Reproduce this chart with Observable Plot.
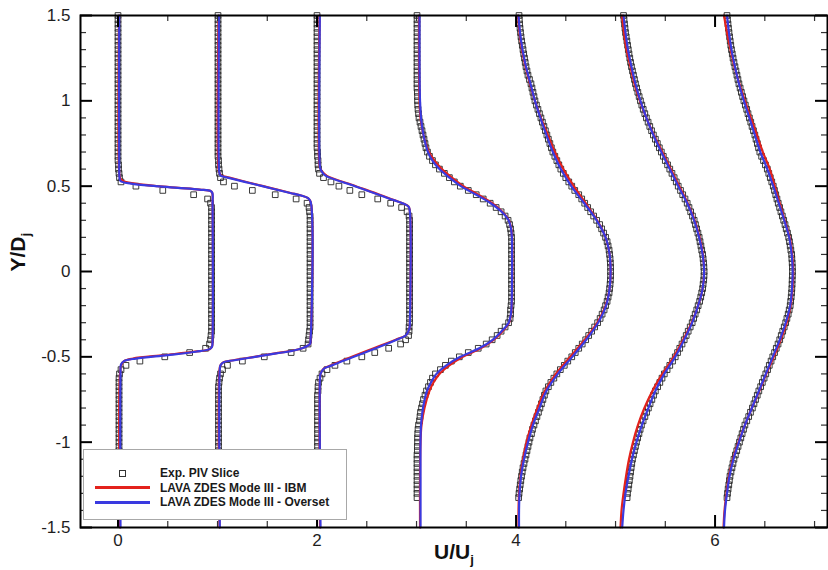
<!DOCTYPE html>
<html>
<head>
<meta charset="utf-8">
<script src="https://cdn.jsdelivr.net/npm/d3@7"></script>
<script src="https://cdn.jsdelivr.net/npm/@observablehq/plot@0.6"></script>
<style>
  body { margin: 0; background: #fff; }
  #wrap { position: relative; width: 828px; height: 570px; overflow: hidden; }
  #legend { position: absolute; left: 83px; top: 449px; width: 262px; height: 69px;
            border: 1px solid #a8a8a8; background: #fff;
            font: bold 12px "Liberation Sans", Arial, sans-serif; color: #1a1a1a; }
  #legend .sym { position: absolute; }
  #legend .txt { position: absolute; left: 76px; line-height: 14px; white-space: nowrap; }
</style>
</head>
<body>
<div id="wrap">
  <div id="chart"></div>
  <div id="legend"></div>
</div>
<script>
// ---------------- data ----------------
// streamwise stations, each profile is offset by its station index on the U/Uj axis
const stations = [0, 1, 2, 3, 4, 5, 6];

// PIV sample positions (Y/Dj)
const pivY = [
  1.5,1.475,1.45,1.425,1.4,1.375,1.35,1.325,1.3,1.275,
  1.25,1.225,1.2,1.175,1.15,1.125,1.1,1.075,1.05,1.025,
  1,0.975,0.95,0.925,0.9,0.875,0.85,0.825,0.8,0.775,
  0.75,0.725,0.7,0.675,0.65,0.625,0.6,0.575,0.55,0.525,
  0.5,0.475,0.45,0.425,0.4,0.375,0.35,0.325,0.3,0.275,
  0.25,0.225,0.2,0.175,0.15,0.125,0.1,0.075,0.05,0.025,
  0,-0.025,-0.05,-0.075,-0.1,-0.125,-0.15,-0.175,-0.2,-0.225,
  -0.25,-0.275,-0.3,-0.325,-0.35,-0.375,-0.4,-0.425,-0.45,-0.475,
  -0.5,-0.525,-0.55,-0.575,-0.6,-0.625,-0.65,-0.675,-0.7,-0.725,
  -0.75,-0.775,-0.8,-0.825,-0.85,-0.875,-0.9,-0.925,-0.95,-0.975,
  -1,-1.025,-1.05,-1.075,-1.1,-1.125,-1.15,-1.175,-1.2,-1.225,
  -1.25,-1.275,-1.3,-1.325
];

// Exp. PIV Slice: U/Uj at each pivY, one list per station
const pivU0 = [
  0,0,0,0,0,0,0,0,0,0,
  0,0,0,0,0,0,0,0,0,0,
  0,0,0,0,0,0,0,0,0,0,
  0,0,0,0,0,0.005,0.005,0.01,0.015,0.03,
  0.18,0.45,0.76,0.9,0.93,0.94,0.94,0.94,0.94,0.94,
  0.94,0.94,0.94,0.94,0.94,0.94,0.94,0.94,0.94,0.94,
  0.94,0.94,0.94,0.94,0.94,0.94,0.94,0.94,0.94,0.94,
  0.94,0.94,0.94,0.94,0.94,0.935,0.93,0.92,0.88,0.72,
  0.47,0.22,0.08,0.03,0.015,0.01,0.01,0.01,0.01,0.01,
  0.01,0.01,0.01,0.01,0.01,0.01,0.01,0.01,0.01,0.01,
  0.01,0.01,0.01,0.01,0.005,0.005,0.005,0.005,0.005,0.005,
  0.005,0.005,0.005,0.005
];
const pivU1 = [
  0.005,0.005,0.005,0.005,0.005,0.005,0.005,0.005,0.005,0.005,
  0.005,0.005,0.005,0.005,0.005,0.005,0.005,0.005,0.005,0.005,
  0.005,0.005,0.005,0.005,0.005,0.005,0.005,0.005,0.005,0.005,
  0.005,0.005,0.005,0.005,0.01,0.01,0.015,0.02,0.03,0.06,
  0.17,0.35,0.58,0.79,0.9,0.92,0.925,0.93,0.93,0.93,
  0.93,0.93,0.93,0.93,0.93,0.93,0.93,0.93,0.93,0.93,
  0.93,0.93,0.93,0.93,0.93,0.93,0.93,0.93,0.93,0.93,
  0.93,0.93,0.93,0.93,0.925,0.92,0.915,0.91,0.86,0.74,
  0.47,0.25,0.1,0.05,0.03,0.02,0.015,0.01,0.01,0.01,
  0.01,0.01,0.01,0.01,0.01,0.01,0.01,0.01,0.01,0.01,
  0.01,0.01,0.01,0.01,0.01,0.01,0.01,0.01,0.01,0.01,
  0.01,0.01,0.01,0.01
];
const pivU2 = [
  0,0,0,0,0,0,0,0,0,0,
  0,0,0,0,0,0,0,0,0,0,
  0,0,0,0,0,0,0,0,0,0,
  0,0,0.005,0.005,0.01,0.01,0.015,0.025,0.065,0.14,
  0.22,0.33,0.45,0.61,0.74,0.85,0.905,0.925,0.93,0.93,
  0.93,0.93,0.93,0.93,0.93,0.93,0.93,0.93,0.93,0.93,
  0.93,0.93,0.93,0.93,0.93,0.93,0.93,0.93,0.93,0.93,
  0.93,0.93,0.93,0.925,0.925,0.92,0.89,0.84,0.72,0.58,
  0.45,0.3,0.18,0.1,0.05,0.03,0.015,0.01,0.01,0.005,
  0.005,0.005,0.005,0.005,0.005,0.005,0.005,0.005,0.005,0.005,
  0.005,0.005,0.005,0.005,0.005,0.005,0.005,0.005,0.005,0.005,
  0.005,0.005,0.005,0.005
];
const pivU3 = [
  0.005,0.005,0.005,0.005,0.005,0.005,0.005,0.005,0.005,0.005,
  0.005,0.005,0.005,0.005,0.005,0.005,0.005,0.005,0.008,0.01,
  0.01,0.012,0.015,0.02,0.025,0.035,0.045,0.055,0.065,0.075,
  0.085,0.095,0.11,0.13,0.16,0.19,0.23,0.28,0.33,0.38,
  0.44,0.52,0.6,0.67,0.74,0.8,0.85,0.89,0.92,0.935,
  0.945,0.95,0.955,0.955,0.955,0.955,0.955,0.955,0.955,0.955,
  0.955,0.955,0.955,0.955,0.955,0.955,0.955,0.955,0.95,0.945,
  0.945,0.94,0.925,0.89,0.85,0.81,0.76,0.7,0.62,0.52,
  0.43,0.35,0.29,0.24,0.19,0.16,0.14,0.12,0.1,0.085,
  0.07,0.06,0.05,0.04,0.035,0.03,0.02,0.015,0.012,0.01,
  0.01,0.008,0.008,0.005,0.005,0.005,0.005,0.005,0.005,0.005,
  0.005,0.005,0.005,0.005
];
const pivU4 = [
  0.03,0.033,0.036,0.04,0.045,0.05,0.056,0.063,0.07,0.077,
  0.085,0.092,0.1,0.11,0.12,0.135,0.15,0.16,0.17,0.18,
  0.19,0.205,0.22,0.235,0.25,0.265,0.28,0.295,0.31,0.325,
  0.34,0.355,0.37,0.39,0.41,0.43,0.45,0.475,0.5,0.53,
  0.56,0.59,0.63,0.66,0.69,0.72,0.75,0.78,0.81,0.84,
  0.86,0.88,0.9,0.915,0.925,0.935,0.94,0.945,0.948,0.95,
  0.95,0.95,0.948,0.945,0.94,0.935,0.925,0.915,0.9,0.885,
  0.865,0.845,0.82,0.79,0.76,0.73,0.7,0.665,0.63,0.595,
  0.56,0.52,0.485,0.445,0.41,0.38,0.35,0.325,0.3,0.285,
  0.27,0.255,0.24,0.225,0.21,0.195,0.18,0.165,0.155,0.14,
  0.13,0.12,0.11,0.1,0.09,0.08,0.07,0.062,0.055,0.048,
  0.042,0.036,0.03,0.026
];
const pivU5 = [
  0.08,0.085,0.09,0.095,0.1,0.107,0.114,0.121,0.128,0.135,
  0.143,0.151,0.16,0.17,0.18,0.19,0.2,0.212,0.224,0.237,
  0.25,0.264,0.278,0.294,0.31,0.327,0.344,0.362,0.38,0.4,
  0.42,0.44,0.46,0.48,0.5,0.523,0.545,0.567,0.589,0.61,
  0.63,0.653,0.675,0.698,0.72,0.738,0.755,0.773,0.79,0.803,
  0.815,0.828,0.84,0.849,0.858,0.866,0.875,0.88,0.885,0.888,
  0.89,0.889,0.886,0.88,0.875,0.866,0.856,0.845,0.83,0.816,
  0.8,0.785,0.77,0.75,0.73,0.71,0.69,0.668,0.645,0.623,
  0.6,0.573,0.545,0.518,0.49,0.467,0.445,0.423,0.4,0.382,
  0.365,0.347,0.33,0.312,0.295,0.277,0.26,0.247,0.235,0.222,
  0.21,0.2,0.19,0.18,0.17,0.163,0.157,0.151,0.145,0.139,
  0.133,0.127,0.12,0.116
];
const pivU6 = [
  0.12,0.125,0.13,0.135,0.14,0.146,0.152,0.158,0.165,0.173,
  0.181,0.19,0.2,0.21,0.22,0.23,0.24,0.252,0.264,0.277,
  0.29,0.304,0.318,0.331,0.345,0.359,0.372,0.386,0.4,0.412,
  0.425,0.437,0.45,0.468,0.487,0.506,0.525,0.54,0.555,0.57,
  0.585,0.597,0.61,0.622,0.635,0.649,0.662,0.676,0.69,0.703,
  0.715,0.728,0.74,0.748,0.755,0.762,0.77,0.772,0.775,0.777,
  0.778,0.777,0.775,0.774,0.772,0.769,0.765,0.76,0.755,0.745,
  0.735,0.722,0.71,0.695,0.68,0.665,0.65,0.633,0.615,0.598,
  0.58,0.563,0.545,0.528,0.51,0.493,0.475,0.458,0.44,0.424,
  0.407,0.391,0.375,0.356,0.338,0.319,0.3,0.286,0.272,0.259,
  0.245,0.231,0.218,0.204,0.19,0.18,0.17,0.16,0.15,0.144,
  0.138,0.131,0.125,0.12
];
const pivU = [pivU0, pivU1, pivU2, pivU3, pivU4, pivU5, pivU6];

// CFD profiles (LAVA ZDES Mode III): Y/Dj positions and U/Uj per station
const cfdY0 = [1.5,0.6,0.55,0.53,0.515,0.5,0.49,0.48,0.472,0.46,0.4,-0.4,-0.44,-0.455,-0.47,-0.49,-0.51,-0.525,-0.545,-0.6,-1.5];
const cfdY1 = [1.5,0.6,0.575,0.562,0.55,0.52,0.5,0.48,0.46,0.445,0.43,0.41,-0.4,-0.424,-0.445,-0.463,-0.48,-0.5,-0.52,-0.531,-0.55,-0.575,-1.5];
const cfdY2 = [1.5,0.62,0.6,0.58,0.562,0.5,0.45,0.42,0.397,0.38,0.35,-0.3,-0.33,-0.36,-0.375,-0.4,-0.45,-0.5,-0.55,-0.57,-0.6,-0.62,-1.5];
const cfdY3 = [1.5,1.2,1,0.9,0.8,0.7,0.65,0.6,0.55,0.5,0.45,0.4,0.35,0.3,0.25,0.2,0,-0.2,-0.25,-0.3,-0.35,-0.4,-0.45,-0.5,-0.55,-0.6,-0.65,-0.7,-0.8,-0.9,-1,-1.2,-1.5];
const cfdYw = [1.5,1.4,1.3,1.2,1.1,1,0.9,0.8,0.7,0.6,0.5,0.4,0.3,0.2,0.1,0,-0.1,-0.2,-0.3,-0.4,-0.5,-0.6,-0.7,-0.8,-0.9,-1,-1.1,-1.2,-1.3,-1.4,-1.5];
const cfdY = [cfdY0, cfdY1, cfdY2, cfdY3, cfdYw, cfdYw, cfdYw];

// LAVA ZDES Mode III - IBM
const ibmU = [
  [0.01,0.01,0.02,0.05,0.17,0.4,0.61,0.82,0.93,0.947,0.95,0.95,0.945,0.92,0.77,0.46,0.15,0.06,0.035,0.02,0.02],
  [0.01,0.01,0.02,0.04,0.12,0.32,0.46,0.6,0.735,0.84,0.91,0.935,0.935,0.93,0.87,0.76,0.58,0.37,0.16,0.06,0.03,0.02,0.02],
  [0.025,0.025,0.035,0.06,0.095,0.39,0.63,0.765,0.872,0.92,0.933,0.933,0.93,0.91,0.89,0.79,0.57,0.35,0.14,0.065,0.035,0.03,0.03],
  [0.025,0.025,0.03,0.04,0.07,0.125,0.18,0.255,0.355,0.47,0.62,0.76,0.862,0.928,0.952,0.96,0.962,0.957,0.95,0.93,0.865,0.775,0.645,0.465,0.33,0.23,0.17,0.13,0.08,0.05,0.04,0.035,0.035],
  [0.02,0.035,0.06,0.095,0.14,0.19,0.25,0.32,0.39,0.475,0.58,0.7,0.815,0.9,0.94,0.95,0.94,0.9,0.815,0.69,0.545,0.4,0.29,0.215,0.155,0.105,0.07,0.045,0.03,0.025,0.025],
  [0.065,0.085,0.11,0.15,0.19,0.245,0.31,0.385,0.47,0.555,0.64,0.725,0.795,0.845,0.878,0.89,0.875,0.83,0.765,0.68,0.585,0.47,0.37,0.29,0.225,0.175,0.135,0.105,0.08,0.06,0.05],
  [0.09,0.12,0.155,0.195,0.245,0.3,0.36,0.42,0.48,0.55,0.6,0.65,0.7,0.75,0.775,0.785,0.778,0.76,0.72,0.66,0.59,0.515,0.445,0.37,0.3,0.235,0.18,0.14,0.115,0.095,0.085]
];
// LAVA ZDES Mode III - Overset
const oversetU = [
  [0.012,0.012,0.015,0.025,0.13,0.38,0.6,0.82,0.93,0.948,0.95,0.95,0.945,0.92,0.78,0.5,0.18,0.06,0.03,0.025,0.025],
  [0.015,0.015,0.02,0.03,0.1,0.31,0.45,0.59,0.73,0.84,0.91,0.935,0.935,0.93,0.87,0.767,0.59,0.38,0.17,0.063,0.03,0.023,0.023],
  [0.028,0.028,0.035,0.055,0.085,0.38,0.62,0.76,0.872,0.92,0.933,0.933,0.93,0.91,0.89,0.8,0.59,0.37,0.15,0.068,0.035,0.03,0.035],
  [0.03,0.03,0.035,0.045,0.07,0.115,0.16,0.23,0.33,0.445,0.6,0.745,0.855,0.925,0.95,0.958,0.96,0.955,0.948,0.925,0.855,0.765,0.63,0.44,0.3,0.2,0.145,0.105,0.065,0.045,0.04,0.04,0.04],
  [0.025,0.04,0.065,0.1,0.145,0.19,0.245,0.305,0.37,0.45,0.555,0.685,0.81,0.9,0.94,0.95,0.94,0.905,0.825,0.705,0.565,0.42,0.305,0.235,0.17,0.12,0.08,0.05,0.035,0.03,0.03],
  [0.08,0.1,0.125,0.16,0.2,0.25,0.31,0.38,0.46,0.545,0.63,0.72,0.79,0.84,0.875,0.89,0.875,0.83,0.77,0.69,0.6,0.49,0.4,0.33,0.265,0.21,0.165,0.13,0.1,0.08,0.067],
  [0.12,0.14,0.165,0.2,0.24,0.29,0.345,0.4,0.455,0.525,0.585,0.64,0.695,0.745,0.77,0.78,0.773,0.755,0.71,0.65,0.58,0.51,0.44,0.37,0.3,0.24,0.185,0.145,0.12,0.1,0.09]
];

// axis ticks
const xMajor = [0, 2, 4, 6];
const xMinor = [0.5, 1, 1.5, 2.5, 3, 3.5, 4.5, 5, 5.5, 6.5, 7];
const yMajor = [-1.5, -1, -0.5, 0, 0.5, 1, 1.5];
const yMinor = [-1.4,-1.3,-1.2,-1.1,-0.9,-0.8,-0.7,-0.6,-0.4,-0.3,-0.2,-0.1,0.1,0.2,0.3,0.4,0.6,0.7,0.8,0.9,1.1,1.2,1.3,1.4];
const xTitle = "U/Uj";
const yTitle = "Y/Dj";
const legendLabels = ["Exp. PIV Slice", "LAVA ZDES Mode III - IBM", "LAVA ZDES Mode III - Overset"];

// ---------------- tables ----------------
const pivRows = stations.flatMap((s, k) => pivY.map((y, i) => ({x: s + pivU[k][i], y, k})));
const ibmRows = stations.flatMap((s, k) => cfdY[k].map((y, i) => ({x: s + ibmU[k][i], y, k})));
const ovRows = stations.flatMap((s, k) => cfdY[k].map((y, i) => ({x: s + oversetU[k][i], y, k})));

// ---------------- layout ----------------
const W = 828, H = 570, ML = 80, MR = 1, MT = 15, MB = 43;
const FW = W - ML - MR, FH = H - MT - MB;   // frame size in px
const MAJ = 12, MIN = 6;                    // inward tick lengths
const RED = "#e3221c", BLUE = "#3a3ae0";
const fmt = d => String(d);
const id = d => d;

const chart = Plot.plot({
  width: W, height: H,
  marginLeft: ML, marginRight: MR, marginTop: MT, marginBottom: MB,
  x: {domain: [-0.377, 7.13]},
  y: {domain: [-1.5, 1.5]},
  style: {fontFamily: "'Liberation Sans', Arial, sans-serif", color: "#1e1e1e", background: "#fff"},
  marks: [
    Plot.dot(pivRows, {x: "x", y: "y", symbol: "square", r: 3.2, stroke: "#262626", strokeWidth: 0.9, fill: "none"}),
    Plot.line(ibmRows, {x: "x", y: "y", z: "k", stroke: RED, strokeWidth: 2.2, curve: "catmull-rom"}),
    Plot.line(ovRows, {x: "x", y: "y", z: "k", stroke: BLUE, strokeWidth: 2.2, curve: "catmull-rom"}),
    // inward tick marks on all four sides
    Plot.tickX(xMajor, {x: id, insetTop: FH - MAJ, stroke: "#000", strokeWidth: 2}),
    Plot.tickX(xMinor, {x: id, insetTop: FH - MIN, stroke: "#333", strokeWidth: 1.2}),
    Plot.tickX(xMajor, {x: id, insetBottom: FH - MAJ, stroke: "#000", strokeWidth: 2}),
    Plot.tickX(xMinor, {x: id, insetBottom: FH - MIN, stroke: "#333", strokeWidth: 1.2}),
    Plot.tickY(yMajor, {y: id, insetRight: FW - MAJ, stroke: "#000", strokeWidth: 2}),
    Plot.tickY(yMinor, {y: id, insetRight: FW - MIN, stroke: "#333", strokeWidth: 1.2}),
    Plot.tickY(yMajor, {y: id, insetLeft: FW - MAJ, stroke: "#000", strokeWidth: 2}),
    Plot.tickY(yMinor, {y: id, insetLeft: FW - MIN, stroke: "#333", strokeWidth: 1.2}),
    Plot.frame({stroke: "#000", strokeWidth: 2}),
    Plot.axisX({ticks: xMajor, anchor: "bottom", tickSize: 0, tickPadding: 6, tickFormat: fmt, label: null, fontSize: 17}),
    Plot.axisY({ticks: yMajor, anchor: "left", tickSize: 0, tickPadding: 10, tickFormat: fmt, label: null, fontSize: 17}),
    Plot.text([xTitle], {frameAnchor: "bottom", dy: 31, fontSize: 21, fontWeight: "bold", fill: "#111"}),
    Plot.text([yTitle], {frameAnchor: "left", dx: -62, rotate: -90, fontSize: 21, fontWeight: "bold", fill: "#111"})
  ]
});
document.getElementById("chart").append(chart);

// subscript j in the axis titles
chart.querySelectorAll("text").forEach(t => {
  const s = t.textContent;
  if (s === xTitle || s === yTitle) {
    t.textContent = s.slice(0, -1);
    const sub = document.createElementNS("http://www.w3.org/2000/svg", "tspan");
    sub.setAttribute("dy", "5");
    sub.setAttribute("font-size", "13");
    sub.textContent = s.slice(-1);
    t.appendChild(sub);
  }
});

// legend (drawn inside the plot frame, as in the original)
const lg = document.getElementById("legend");
const rowsCY = [23, 37.5, 52];
lg.innerHTML =
  `<div class="sym" style="left:35px;top:${rowsCY[0]-3.5}px;width:5px;height:5px;border:1px solid #333;"></div>` +
  `<div class="sym" style="left:11px;top:${rowsCY[1]-1.5}px;width:55px;height:3px;background:${RED};"></div>` +
  `<div class="sym" style="left:11px;top:${rowsCY[2]-1.5}px;width:55px;height:3px;background:${BLUE};"></div>` +
  legendLabels.map((s, i) => `<div class="txt" style="top:${rowsCY[i]-7}px">${s}</div>`).join("");
</script>
</body>
</html>
